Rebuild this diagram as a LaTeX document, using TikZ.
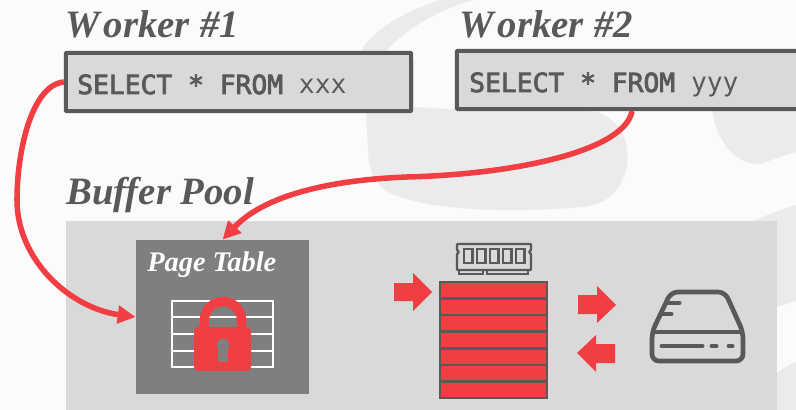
\documentclass[tikz,border=0pt]{standalone}
\usepackage{fontspec}
\setmainfont{Liberation Serif}
\setmonofont{DejaVu Sans Mono}
\newfontfamily\querybold[FakeBold=3]{DejaVu Sans Mono}
\usetikzlibrary{arrows.meta,positioning,calc}
\definecolor{slidebg}{HTML}{FBFBFB}
\definecolor{markgray}{HTML}{EBEBEB}
\definecolor{poolgray}{HTML}{D9D9D9}
\definecolor{darkgray}{HTML}{595959}
\definecolor{tablegray}{HTML}{7F7F7F}
\definecolor{alertred}{HTML}{F03E42}
\tikzset{
  heading/.style={anchor=base west,inner sep=0pt,font=\fontsize{28}{28}\selectfont\bfseries\itshape,text=darkgray},
  querybox/.style={draw=darkgray,line width=2.9pt,fill=poolgray,rounded corners=0.5pt,minimum width=3.45in,minimum height=0.58in,inner sep=0pt},
  querytext/.style={anchor=base west,inner sep=0pt,font=\fontsize{19}{19}\selectfont\ttfamily,text=darkgray},
  flow/.style={draw=alertred,line width=4pt,-{Triangle[length=13pt,width=12.5pt]}},
  blockarrow/.style={fill=alertred},
  slot/.style={draw=darkgray,line width=1.8pt,fill=alertred,minimum width=1.07in,minimum height=0.1657in,inner sep=0pt},
}
\begin{document}
\begin{tikzpicture}[x=0.01in,y=-0.01in]
  \useasboundingbox (0,0) rectangle (796,410);
  \fill[slidebg] (0,0) rectangle (796,410);
  % faint logo behind
  \fill[markgray] (363,47) .. controls (380,25) and (410,10) .. (440,0) -- (473,0)
    .. controls (440,10) and (410,25) .. (385,52) -- (414,60) -- (414,107)
    .. controls (480,112) and (560,108) .. (597,112)
    .. controls (620,120) and (630,140) .. (627,165)
    .. controls (622,195) and (600,207) .. (580,207)
    .. controls (520,213) and (420,212) .. (385,190)
    .. controls (372,180) and (369,170) .. (368,150) -- cycle;
  \fill[markgray] (712,110) .. controls (716,140) and (735,165) .. (760,164)
    .. controls (772,160) and (785,155) .. (796,152) -- (796,110) -- cycle;
  \fill[markgray] (753,221) .. controls (767,215) and (782,209) .. (796,205) -- (796,301) -- (777,307) -- (777,221) -- cycle;
  \fill[markgray] (777,373) .. controls (783,368) and (790,364) .. (796,362) -- (796,410) -- (777,410) -- cycle;
  % pool
  \fill[poolgray] (66,221) rectangle (777,410);
  % workers
  \node[heading] (worker1) at (65,38) {W\kern3pt orker\kern0.5pt{} \#1};
  \node[heading] (worker2) at (459,38) {W\kern3pt orker\kern0.5pt{} \#2};
  \node[heading] (pool) at (66,205) {Buffer Pool};
  \node[querybox] (query1) at (238.5,82) {};
  \node[querybox,minimum width=3.42in] (query2) at (628,80) {};
  \node[querytext] (text1) at (77,94) {{\querybold SELECT * FROM} xxx};
  \node[querytext] (text2) at (469,92) {{\querybold SELECT * FROM} yyy};
  % page table
  \node[fill=tablegray,minimum width=1.73in,minimum height=1.54in,inner sep=0pt] (table) at (222.5,317) {};
  \node[anchor=base west,inner sep=0pt,font=\fontsize{20.5}{20.5}\selectfont\bfseries\itshape,text=white] (tablename) at (147,271) {Page Table};
  \draw[white,line width=2pt] (172,301) rectangle (273,367);
  \foreach \y in {317,334,351} \draw[white,line width=2pt] (172,\y) -- (273,\y);
  % lock
  \draw[alertred,line width=6.8pt] (204.5,330) -- (204.5,320) arc[start angle=180,end angle=360,radius=18.5] -- (241.5,330);
  \fill[alertred,rounded corners=3pt] (194,327) rectangle (251,371);
  \fill[tablegray] (218,345) rectangle (228,362);
  \fill[tablegray] (223,345) circle (6.3);
  % buffer slots
  \foreach \i [count=\n] in {290.3,306.9,323.4,340,356.6,373.2,389.7}
    \node[slot] (slot\n) at (493.5,\i) {};
  % chip
  \draw[darkgray,line width=1.7pt,rounded corners=0.5pt] (457,244) -- (531,244) -- (531,250) -- (529,252) -- (531,254) -- (531,270) -- (457,270) -- (457,254) -- (459,252) -- (457,250) -- cycle;
  \foreach \x in {464,477,490,503,516}
    \draw[darkgray,line width=1.7pt] (\x,249) rectangle +(8.5,14);
  \draw[darkgray,line width=1.3pt] (459,270) -- (459,274) -- (483,274) -- (483,270) (487,270) -- (487,274) -- (528,274) -- (528,270);
  % block arrows
  \fill[blockarrow] (394,283) -- (413,283) -- (413,273) -- (432,292) -- (413,311) -- (413,301) -- (394,301) -- cycle;
  \fill[blockarrow] (578,295) -- (597,295) -- (597,286) -- (616,305) -- (597,323) -- (597,314) -- (578,314) -- cycle;
  \fill[blockarrow] (615,344) -- (596,344) -- (596,335) -- (577,353) -- (596,372) -- (596,363) -- (615,363) -- cycle;
  % disk
  \draw[darkgray,line width=3.4pt,line join=round,rounded corners=5pt] (671,292) -- (725,292) -- (743,332) -- (743,361) -- (652,361) -- (652,332) -- cycle;
  \draw[darkgray,line width=3.4pt] (652,332) -- (743,332);
  \draw[darkgray,line width=3.6pt,line cap=round] (662,346) -- (702,346) (712,346) -- (716,346) (729,346) -- (732,346) (667,303) -- (679,303) (663,314) -- (671,314);
  % connectors
  \draw[flow] (query1.west) .. controls (32,85) and (17,150) .. (17,200) .. controls (17,260) and (70,308) .. (table.west);
  \draw[flow] ($(query2.south)+(4,0)$) .. controls (625,150) and (520,174) .. (407,177) .. controls (330,180) and (265,195) .. (table.north);
\end{tikzpicture}
\end{document}
